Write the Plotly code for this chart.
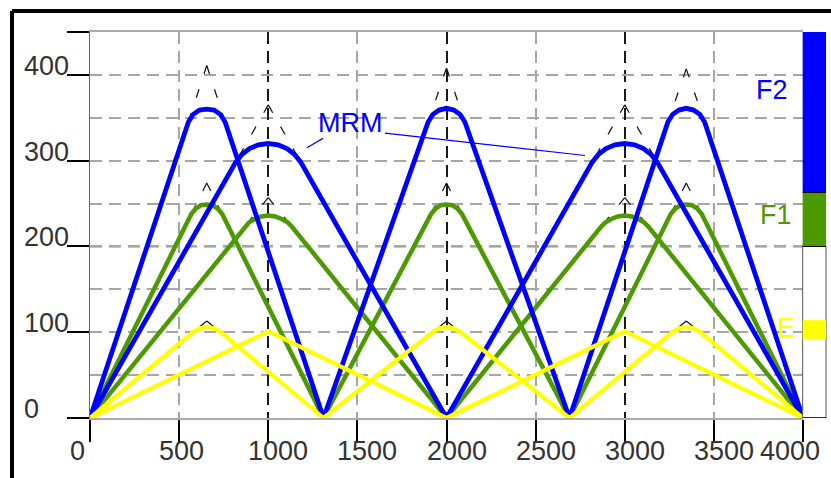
import plotly.graph_objects as go

# ---------------- data ----------------
x_tick_vals = [0, 500, 1000, 1500, 2000, 2500, 3000, 3500, 4000]
x_major = [0, 1000, 2000, 3000, 4000]
x_minor = [500, 1500, 2500, 3500]
y_tick_vals = [0, 100, 200, 300, 400]
y_minor = [50, 150, 250, 350]
y_dark_grid = [200, 300]

# F2 layer traces (blue)
f2_a_x = [0, 552, 579, 614, 655, 696, 731, 758, 1310,
          1897, 1924, 1959, 2000, 2041, 2076, 2103, 2690,
          3242, 3269, 3304, 3345, 3386, 3421, 3448, 4000]
f2_a_y = [0, 345, 354, 359, 360, 359, 354, 345, 0,
          345, 354, 359, 361, 359, 354, 345, 0,
          345, 354, 359, 361, 359, 354, 345, 0]
f2_b_x = [0, 817, 851, 895, 945, 1000, 1055, 1105, 1149, 1183, 2000,
          2817, 2851, 2895, 2945, 3000, 3055, 3105, 3149, 3183, 4000]
f2_b_y = [0, 298, 307, 314, 318.5, 320, 318.5, 314, 307, 298, 0,
          298, 307, 314, 318.5, 320, 318.5, 314, 307, 298, 0]

# F1 layer traces (green)
f1_a_x = [0, 569, 593, 622, 655, 688, 717, 741, 1310,
          1914, 1938, 1967, 2000, 2033, 2062, 2086, 2690,
          3259, 3283, 3312, 3345, 3378, 3407, 3431, 4000]
f1_a_y = [0, 238, 244, 248, 249, 248, 244, 238, 0,
          238, 244, 248, 249, 248, 244, 238, 0,
          238, 244, 248, 249, 248, 244, 238, 0]
f1_b_x = [0, 867, 892, 925, 961, 1000, 1039, 1075, 1108, 1133, 2000,
          2867, 2892, 2925, 2961, 3000, 3039, 3075, 3108, 3133, 4000]
f1_b_y = [0, 223, 228, 232, 235, 236, 235, 232, 228, 223, 0,
          223, 228, 232, 235, 236, 235, 232, 228, 223, 0]

# E layer traces (yellow)
e_a_x = [0, 583, 617, 655, 693, 727, 1310,
         1928, 1962, 2000, 2038, 2072, 2690,
         3273, 3307, 3345, 3383, 3417, 4000]
e_a_y = [0, 101, 104.5, 106, 104.5, 101, 0,
         101, 104.5, 106, 104.5, 101, 0,
         101, 104.5, 106, 104.5, 101, 0]
e_b_x = [0, 1000, 2000, 3000, 4000]
e_b_y = [0, 101, 0, 101, 0]

# dashed apex guides (apex -> tangent point)
g_f2a_x = [655, 552, None, 655, 758, None, 2000, 1897, None, 2000, 2103, None, 3345, 3242, None, 3345, 3448]
g_f2a_y = [411, 345, None, 411, 345, None, 408, 345, None, 408, 345, None, 407, 345, None, 407, 345]
g_f2b_x = [1000, 817, None, 1000, 1183, None, 3000, 2817, None, 3000, 3183]
g_f2b_y = [365, 298, None, 365, 298, None, 365, 298, None, 365, 298]
g_f1a_x = [655, 569, None, 655, 741, None, 2000, 1914, None, 2000, 2086, None, 3345, 3259, None, 3345, 3431]
g_f1a_y = [274, 238, None, 274, 238, None, 274, 238, None, 274, 238, None, 274, 238, None, 274, 238]
g_f1b_x = [1000, 867, None, 1000, 1133, None, 3000, 2867, None, 3000, 3133]
g_f1b_y = [257, 223, None, 257, 223, None, 257, 223, None, 257, 223]
g_ea_x = [655, 583, None, 655, 727, None, 2000, 1928, None, 2000, 2072, None, 3345, 3273, None, 3345, 3417]
g_ea_y = [113, 101, None, 113, 101, None, 113, 101, None, 113, 101, None, 113, 101, None, 113, 101]

# MRM pointer lines
mrm_x = [1217, 1307, None, 1655, 2777]
mrm_y = [315, 326, None, 332, 306]

# layer bar on the right
layer_names = ["E", "F1", "F2"]
layer_bottom = [92, 200, 263]
layer_top = [114, 263, 450]

# ---------------- styles ----------------
BLUE = "#0000ff"
GREEN = "#4d9a00"
YELLOW = "#ffff00"
FONT = "Liberation Sans, Arial, sans-serif"
TXT = "#333333"
DASH = "12px,7px"
GRAY = "#a6a6a6"
DARK = "#1a1a1a"

fig = go.Figure()


def line(x, y, color, width, dash="solid"):
    fig.add_trace(go.Scatter(x=x, y=y, mode="lines", hoverinfo="skip",
                             line=dict(color=color, width=width, dash=dash)))


for gx, gy in [(g_f2a_x, g_f2a_y), (g_f2b_x, g_f2b_y), (g_f1a_x, g_f1a_y),
               (g_f1b_x, g_f1b_y), (g_ea_x, g_ea_y)]:
    line(gx, gy, "#111111", 1.2, "9px,16px")

line(f1_a_x, f1_a_y, GREEN, 4.5)
line(f1_b_x, f1_b_y, GREEN, 4.5)
line(f2_a_x, f2_a_y, BLUE, 4.8)
line(f2_b_x, f2_b_y, BLUE, 4.8)
line(e_a_x, e_a_y, YELLOW, 4.2)
line(e_b_x, e_b_y, YELLOW, 4.2)
line(mrm_x, mrm_y, BLUE, 1.2)

shapes = []
# darker dashed grid lines
for v in y_dark_grid:
    shapes.append(dict(type="line", xref="paper", yref="y", x0=0, x1=1, y0=v, y1=v,
                       line=dict(color=DARK, width=1.5, dash=DASH), layer="below"))

# layer bar
BX0, BX1 = 0.9995, 1.0323
shapes.append(dict(type="rect", xref="paper", yref="y", x0=BX0, x1=BX1, y0=0, y1=layer_bottom[1],
                   fillcolor="white", line=dict(color="#555555", width=1)))
bar_colors = {"E": YELLOW, "F1": GREEN, "F2": BLUE}
for name, b, t in zip(layer_names, layer_bottom, layer_top):
    shapes.append(dict(type="rect", xref="paper", yref="y", x0=BX0, x1=BX1, y0=b, y1=t,
                       fillcolor=bar_colors[name], line=dict(width=0)))
for v in [layer_bottom[1], layer_bottom[2]]:
    shapes.append(dict(type="line", xref="paper", yref="y", x0=BX0, x1=BX1, y0=v, y1=v,
                       line=dict(color="black", width=1)))
shapes.append(dict(type="line", xref="paper", yref="y", x0=BX0, x1=BX1, y0=0, y1=0,
                   line=dict(color="black", width=1.5)))

# outer frame (thick black, cropped at right/bottom)
FX = (12 - 90) / 713
FY = (418 - 11) / 386
shapes.append(dict(type="line", xref="paper", yref="paper", x0=FX, x1=FX, y0=FY, y1=-0.3,
                   line=dict(color="black", width=4)))
shapes.append(dict(type="line", xref="paper", yref="paper", x0=FX, x1=1.1, y0=FY, y1=FY,
                   line=dict(color="black", width=4)))

annotations = []
for v in x_tick_vals:
    annotations.append(dict(x=v, y=0, xref="x", yref="y", text=str(v), showarrow=False,
                            xanchor="left", yanchor="middle",
                            xshift=-45 if v == x_tick_vals[-1] else -22, yshift=-33,
                            font=dict(family=FONT, size=27, color=TXT)))
for v in y_tick_vals:
    annotations.append(dict(x=(22 - 90) / 713, y=v, xref="paper", yref="y", text=str(v),
                            showarrow=False, xanchor="left", yanchor="middle", yshift=9,
                            font=dict(family=FONT, size=27, color=TXT)))
annotations.append(dict(x=1459, y=344, xref="x", yref="y", text="MRM", showarrow=False,
                        font=dict(family=FONT, size=27, color=BLUE)))
for name, yv, xs in [("F2", 382, -13), ("F1", 237, -9), ("E", 105, -6)]:
    annotations.append(dict(x=1, y=yv, xref="paper", yref="y", text=name, showarrow=False,
                            xanchor="right", yanchor="middle", xshift=xs,
                            font=dict(family=FONT, size=27, color=bar_colors[name])))

fig.update_layout(
    width=831, height=478,
    margin=dict(l=90, r=28, t=32, b=60),
    paper_bgcolor="white", plot_bgcolor="white",
    showlegend=False,
    shapes=shapes, annotations=annotations,
    xaxis=dict(range=[0, 4000], tickvals=x_major, showticklabels=False,
               ticks="outside", ticklen=22, tickwidth=1.5, tickcolor="black",
               showgrid=True, gridcolor=DARK, gridwidth=1.5, griddash=DASH,
               showline=True, linecolor="#aaaaaa", linewidth=2, mirror=True,
               zeroline=False,
               minor=dict(tickvals=x_minor, ticks="outside", ticklen=22, tickwidth=1.5,
                          tickcolor="black", showgrid=True, gridcolor=GRAY,
                          griddash=DASH, gridwidth=2)),
    yaxis=dict(range=[0, 450], tickvals=y_tick_vals + [450], showticklabels=False,
               ticks="outside", ticklen=22, tickwidth=1.5, tickcolor="black",
               showgrid=True, gridcolor=GRAY, gridwidth=2, griddash=DASH,
               showline=True, linecolor="#666666", linewidth=1, zeroline=False,
               minor=dict(tickvals=y_minor, ticks="", showgrid=True, gridcolor=GRAY,
                          griddash=DASH, gridwidth=2)),
)

fig.write_html("out.html", config={"displayModeBar": False},
               post_script="document.body.style.margin='0px';document.body.style.overflow='hidden';")
